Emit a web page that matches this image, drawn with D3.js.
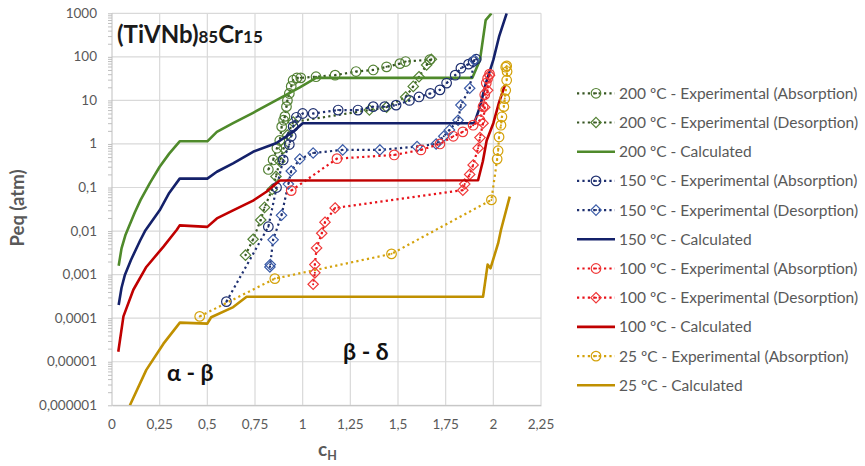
<!doctype html>
<html>
<head>
<meta charset="utf-8">
<title>(TiVNb)85Cr15 PCT</title>
<script src="https://cdn.jsdelivr.net/npm/d3@7"></script>
<style>
  body { margin: 0; background: #fff; }
  svg { font-family: Lato, "Open Sans", sans-serif; }
</style>
</head>
<body>
<div id="chart"></div>
<script>
  // axis ticks
  const xTicks = [0, 0.25, 0.5, 0.75, 1, 1.25, 1.5, 1.75, 2, 2.25];
  const xTickLabels = ['0', '0,25', '0,5', '0,75', '1', '1,25', '1,5', '1,75', '2', '2,25'];
  const yTicks = [1000, 100, 10, 1, 0.1, 0.01, 0.001, 0.0001, 0.00001, 0.000001];
  const yTickLabels = ['1000', '100', '10', '1', '0,1', '0,01', '0,001', '0,0001', '0,00001', '0,000001'];

  // [cH, Peq atm]
  const abs200 = [[0.82,0.26],[0.845,0.43],[0.865,0.8],[0.88,1.2],[0.89,2.5],[0.9,3.5],[0.907,4.3],[0.915,7.2],[0.92,10],[0.93,14.4],[0.94,21],[0.95,29],[0.97,33],[0.99,33],[1.07,35],[1.17,38],[1.28,46],[1.37,50],[1.44,59],[1.51,70],[1.54,78],[1.667,86]];
  const des200 = [[1.675,88],[1.65,65],[1.61,35],[1.58,21],[1.54,12],[1.44,7],[1.35,6],[0.95,3.2],[0.92,1.6],[0.9,0.8],[0.88,0.4],[0.86,0.18],[0.84,0.09],[0.8,0.035],[0.78,0.018],[0.74,0.0065],[0.7,0.0028]];
  const calc200 = [[0.035,0.0016],[0.05,0.004],[0.07,0.008],[0.09,0.013],[0.12,0.027],[0.15,0.052],[0.2,0.13],[0.25,0.3],[0.3,0.6],[0.355,1.15],[0.5,1.15],[0.55,1.9],[0.635,3],[0.74,5.2],[0.86,10],[0.985,20],[1.07,33],[1.89,33],[1.93,85],[1.96,700],[1.99,1000]];

  const abs150 = [[0.6,0.00024],[0.82,0.0126],[0.863,0.1],[0.898,0.43],[0.93,0.97],[0.94,1.5],[0.95,2.5],[0.967,4.1],[1.0,5],[1.055,5],[1.186,6],[1.29,6],[1.37,7.2],[1.43,7.2],[1.49,7.8],[1.56,10],[1.61,12],[1.67,14.5],[1.72,17.5],[1.755,25],[1.8,38],[1.83,55],[1.87,68],[1.894,78],[1.91,88]];
  const des150 = [[1.9,85],[1.876,19],[1.83,7.8],[1.815,3.5],[1.77,2.1],[1.74,1.5],[1.7,1.0],[1.6,0.87],[1.405,0.73],[1.21,0.73],[1.055,0.62],[0.985,0.45],[0.94,0.24],[0.925,0.12],[0.889,0.023],[0.845,0.0063],[0.83,0.0017],[0.828,0.0015]];
  const calc150 = [[0.035,0.0002],[0.05,0.0005],[0.068,0.001],[0.1,0.0022],[0.147,0.006],[0.173,0.01],[0.25,0.03],[0.3,0.075],[0.355,0.16],[0.5,0.16],[0.55,0.23],[0.635,0.36],[0.74,0.66],[0.86,1.04],[0.95,1.9],[1.0,3],[1.9,3],[1.93,7.2],[1.96,24],[2.0,85],[2.03,290],[2.07,1000]];

  const abs100 = [[0.94,0.085],[1.18,0.46],[1.48,0.56],[1.62,0.73],[1.72,1.0],[1.79,1.5],[1.84,1.9],[1.894,2.7],[1.93,3.5],[1.946,7.2],[1.955,13.5],[1.963,25],[1.97,32],[1.98,40]];
  const des100 = [[1.98,38],[1.97,17],[1.955,7],[1.946,3],[1.93,1.4],[1.92,0.8],[1.894,0.33],[1.876,0.2],[1.85,0.12],[1.84,0.087],[1.17,0.034],[1.117,0.016],[1.1,0.0089],[1.073,0.0041],[1.064,0.0017],[1.064,0.0011],[1.055,0.0006]];
  const calc100 = [[0.033,0.000017],[0.06,0.00011],[0.112,0.00045],[0.18,0.0015],[0.27,0.0044],[0.34,0.0107],[0.355,0.0135],[0.5,0.0125],[0.55,0.0195],[0.635,0.03],[0.74,0.05],[0.81,0.08],[0.88,0.145],[1.92,0.147],[1.945,0.4],[1.965,1.2],[2.0,3],[2.03,9],[2.06,22]];

  const abs25 = [[0.46,0.00011],[0.854,0.00081],[1.466,0.003],[1.99,0.052],[2.02,0.45],[2.025,0.7],[2.03,1.45],[2.04,2.7],[2.045,4.2],[2.055,7.2],[2.06,11],[2.065,17],[2.07,29],[2.072,46],[2.07,62],[2.065,58]];
  const calc25 = [[0.094,0.000001],[0.18,0.0000065],[0.27,0.000026],[0.356,0.000079],[0.5,0.000075],[0.52,0.000105],[0.636,0.00018],[0.706,0.00031],[1.946,0.00031],[1.97,0.0017],[1.985,0.0014],[2.025,0.0052],[2.04,0.0106],[2.086,0.062]];

  const series = [
    { label: '200 ºC - Experimental (Absorption)', data: abs200, kind: 'circle', line: '#375623', mark: '#548235' },
    { label: '200 ºC - Experimental (Desorption)', data: des200, kind: 'diamond', line: '#375623', mark: '#548235' },
    { label: '200 ºC - Calculated', data: calc200, kind: 'solid', line: '#4f8a2b' },
    { label: '150 ºC - Experimental (Absorption)', data: abs150, kind: 'circle', line: '#1f3070', mark: '#1f3070' },
    { label: '150 ºC - Experimental (Desorption)', data: des150, kind: 'diamond', line: '#1f3070', mark: '#3b5ca8' },
    { label: '150 ºC - Calculated', data: calc150, kind: 'solid', line: '#14216a' },
    { label: '100 ºC - Experimental (Absorption)', data: abs100, kind: 'circle', line: '#e8121a', mark: '#f03a3a' },
    { label: '100 ºC - Experimental (Desorption)', data: des100, kind: 'diamond', line: '#e8121a', mark: '#f03a3a' },
    { label: '100 ºC - Calculated', data: calc100, kind: 'solid', line: '#c00000' },
    { label: '25 ºC - Experimental (Absorption)', data: abs25, kind: 'circle', line: '#d4a20c', mark: '#d4a20c' },
    { label: '25 ºC - Calculated', data: calc25, kind: 'solid', line: '#c09000' }
  ];

  const width = 865, height = 466;
  const plot = { left: 112, right: 541, top: 13.3, bottom: 405.3 };

  const svg = d3.select('#chart').append('svg')
    .attr('width', width)
    .attr('height', height);

  const x = d3.scaleLinear().domain([0, 2.25]).range([plot.left, plot.right]);
  const y = d3.scaleLog().domain([0.000001, 1000]).range([plot.bottom, plot.top]);

  // grid
  const grid = svg.append('g').attr('stroke', '#d9d9d9').attr('stroke-width', 1.2);
  grid.selectAll('line.h').data(yTicks).join('line')
    .attr('x1', plot.left).attr('x2', plot.right)
    .attr('y1', d => y(d)).attr('y2', d => y(d));
  grid.selectAll('line.v').data(xTicks.slice(1)).join('line')
    .attr('x1', d => x(d)).attr('x2', d => x(d))
    .attr('y1', plot.top).attr('y2', plot.bottom);

  // y axis with log minor ticks
  const yAxis = d3.axisLeft(y)
    .tickValues(y.ticks())
    .tickSize(4)
    .tickFormat('');
  svg.append('g')
    .attr('transform', `translate(${plot.left},0)`)
    .call(yAxis)
    .call(g => g.selectAll('line').attr('stroke', '#bfbfbf'))
    .call(g => g.select('.domain').attr('stroke', '#bfbfbf').attr('d', `M0,${plot.top}V${plot.bottom}`));

  svg.append('g').selectAll('text').data(yTicks).join('text')
    .attr('x', plot.left - 15)
    .attr('y', d => y(d) + 4.5)
    .attr('text-anchor', 'end')
    .attr('font-size', 13.5)
    .attr('fill', '#595959')
    .text((d, i) => yTickLabels[i]);

  // x axis
  const xAxis = d3.axisBottom(x).tickValues(xTicks).tickSize(0).tickFormat('');
  svg.append('g')
    .attr('transform', `translate(0,${plot.bottom})`)
    .call(xAxis)
    .call(g => g.select('.domain').attr('stroke', '#bfbfbf'));

  svg.append('g').selectAll('text').data(xTicks).join('text')
    .attr('x', d => x(d))
    .attr('y', plot.bottom + 24)
    .attr('text-anchor', 'middle')
    .attr('font-size', 13.5)
    .attr('fill', '#595959')
    .text((d, i) => xTickLabels[i]);

  // axis titles
  svg.append('text')
    .attr('transform', `translate(24,208) rotate(-90)`)
    .attr('text-anchor', 'middle')
    .attr('font-size', 18.5)
    .attr('font-weight', 'bold')
    .attr('fill', '#595959')
    .text('Peq (atm)');

  const xTitle = svg.append('text')
    .attr('x', 318).attr('y', 456)
    .attr('font-weight', 'bold')
    .attr('fill', '#595959');
  xTitle.append('tspan').attr('font-size', 19).text('c');
  xTitle.append('tspan').attr('font-size', 12.5).attr('dy', 4).text('H');

  // series
  svg.append('clipPath').attr('id', 'clip')
    .append('rect')
    .attr('x', plot.left).attr('y', plot.top)
    .attr('width', plot.right - plot.left).attr('height', plot.bottom - plot.top);

  const line = d3.line().x(d => x(d[0])).y(d => y(d[1]));
  const diamond = 'M0,-5.2L5.2,0L0,5.2L-5.2,0Z';

  const marks = svg.append('g').attr('clip-path', 'url(#clip)');

  const drawMarker = (g, s) => {
    if (s.kind === 'circle') {
      g.append('circle').attr('r', 4.8);
    } else {
      g.append('path').attr('d', diamond);
    }
    g.selectAll(':first-child')
      .attr('fill', 'none')
      .attr('stroke', s.mark)
      .attr('stroke-width', 1.2);
    g.append('circle').attr('r', 1).attr('fill', s.line);
  };

  series.forEach(s => {
    const g = marks.append('g');
    if (s.kind === 'solid') {
      g.append('path').datum(s.data)
        .attr('d', line)
        .attr('fill', 'none')
        .attr('stroke', s.line)
        .attr('stroke-width', 2.6)
        .attr('stroke-linejoin', 'round');
    } else {
      g.append('path').datum(s.data)
        .attr('d', line)
        .attr('fill', 'none')
        .attr('stroke', s.line)
        .attr('stroke-width', 2.2)
        .attr('stroke-dasharray', '2.2 3.2');
      g.selectAll('g.m').data(s.data).join('g')
        .attr('transform', d => `translate(${x(d[0])},${y(d[1])})`)
        .each(function () { drawMarker(d3.select(this), s); });
    }
  });

  // title and phase labels
  const title = svg.append('text')
    .attr('x', 117).attr('y', 43)
    .attr('font-weight', 'bold')
    .attr('fill', '#1a1a1a');
  title.append('tspan').attr('font-size', 24).text('(TiVNb)');
  title.append('tspan').attr('font-size', 17).text('85');
  title.append('tspan').attr('font-size', 24).text('Cr');
  title.append('tspan').attr('font-size', 17).text('15');

  svg.append('text')
    .attr('x', 167).attr('y', 381)
    .attr('font-size', 23).attr('font-weight', 'bold').attr('fill', '#111')
    .text('α - β');
  svg.append('text')
    .attr('x', 343).attr('y', 360)
    .attr('font-size', 23).attr('font-weight', 'bold').attr('fill', '#111')
    .text('β - δ');

  // legend
  const legend = svg.append('g');
  series.forEach((s, i) => {
    const ly = 93.3 + i * 29.2;
    const row = legend.append('g').attr('transform', `translate(0,${ly})`);
    if (s.kind === 'solid') {
      row.append('line').attr('x1', 577).attr('x2', 615)
        .attr('stroke', s.line).attr('stroke-width', 2.6);
    } else {
      row.append('line').attr('x1', 577).attr('x2', 615)
        .attr('stroke', s.line).attr('stroke-width', 2.2)
        .attr('stroke-dasharray', '2.2 3.2');
      const m = row.append('g').attr('transform', 'translate(596,0)');
      drawMarker(m, s);
    }
    row.append('text')
      .attr('x', 619).attr('y', 5.5)
      .attr('font-size', 15.5)
      .attr('fill', '#595959')
      .text(s.label);
  });
</script>
</body>
</html>
